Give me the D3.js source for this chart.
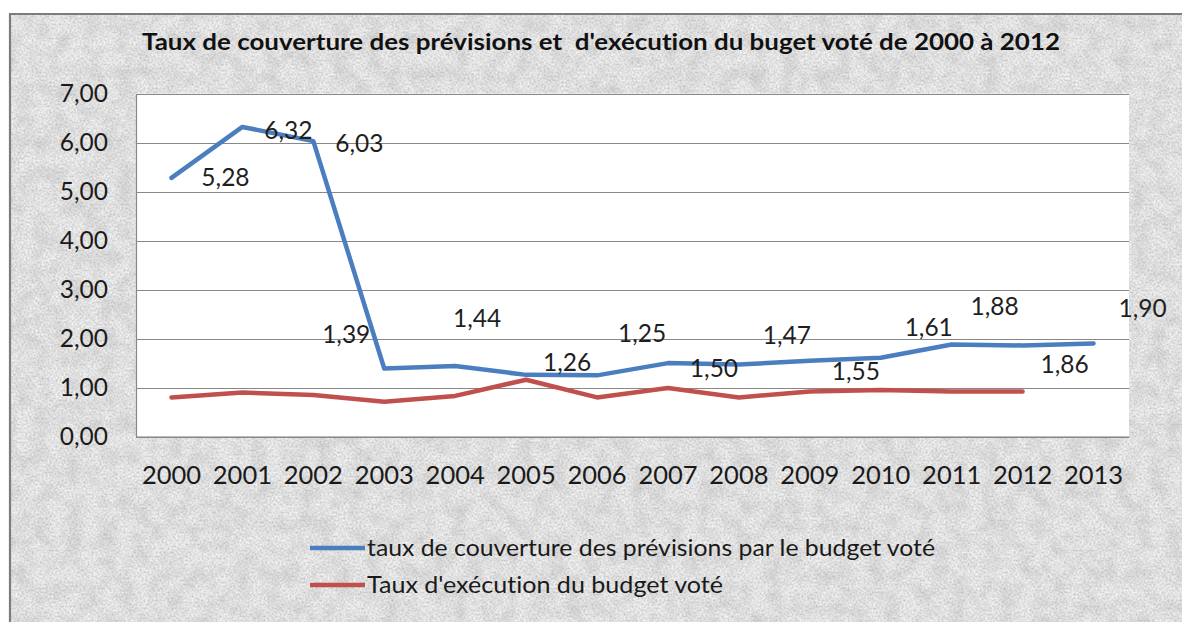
<!DOCTYPE html>
<html>
<head>
<meta charset="utf-8">
<script src="https://cdn.jsdelivr.net/npm/d3@7"></script>
<style>
  html, body { margin: 0; padding: 0; background: #ffffff; }
  svg { display: block; }
  text { white-space: pre; font-variant-ligatures: none; font-feature-settings: "liga" 0, "clig" 0; }
</style>
</head>
<body>
<svg id="chart" width="1182" height="622"></svg>
<script>
// ---- data ----
const years = ["2000", "2001", "2002", "2003", "2004", "2005", "2006",
               "2007", "2008", "2009", "2010", "2011", "2012", "2013"];
// taux de couverture des prévisions par le budget voté (2000-2013)
const couverture = [5.28, 6.32, 6.03, 1.39, 1.44, 1.26, 1.25,
                    1.50, 1.47, 1.55, 1.61, 1.88, 1.86, 1.90];
// taux d'exécution du budget voté (2000-2012)
const execution = [0.80, 0.90, 0.85, 0.71, 0.83, 1.16, 0.80,
                   0.99, 0.80, 0.92, 0.95, 0.92, 0.92];
const yTicks = [0, 1, 2, 3, 4, 5, 6, 7];
const seriesNames = ["taux de couverture des prévisions par le budget voté",
                     "Taux d'exécution du budget voté"];
const titleText = "Taux de couverture des prévisions et  d'exécution du buget voté de 2000 à 2012";

// ---- layout ----
const W = 1182, H = 622;
const plot = { left: 136, right: 1129, top: 93.6, bottom: 436.6 };
const colors = ["#4a7ebf", "#c0504d"];
// value-label placement relative to each point (dx, dy of the label centre)
const labelShift = [[54, 0], [46, 3], [46, 2], [-38, -34], [22, -48], [41, -12], [45, -42],
                    [46, 5], [48, -29], [46, 11], [48, -30], [43, -38], [42, 19], [49, -35]];
// horizontal extents of the title and legend texts
const titleSpan = 918;
const legendSpans = [568, 356];

const fr = d3.formatLocale({ decimal: ",", thousands: " ", grouping: [3], currency: ["", " €"] });
const fmt = fr.format(".2f");

const svg = d3.select("#chart");
const defs = svg.append("defs");

// granite-like paper texture for the chart background
const f = defs.append("filter").attr("id", "granite")
  .attr("x", 0).attr("y", 0).attr("width", "100%").attr("height", "100%");
f.append("feTurbulence").attr("type", "fractalNoise").attr("baseFrequency", 0.5)
  .attr("numOctaves", 2).attr("seed", 7).attr("result", "fine");
f.append("feColorMatrix").attr("in", "fine").attr("type", "matrix")
  .attr("values", "0 0 0 0 0  0 0 0 0 0  0 0 0 0 0  -1.1 0 0 0 0.78").attr("result", "fineA");
f.append("feTurbulence").attr("type", "fractalNoise").attr("baseFrequency", 0.06)
  .attr("numOctaves", 3).attr("seed", 3).attr("result", "coarse");
f.append("feColorMatrix").attr("in", "coarse").attr("type", "matrix")
  .attr("values", "0 0 0 0 0  0 0 0 0 0  0 0 0 0 0  -0.7 0 0 0 0.45").attr("result", "coarseA");
f.append("feFlood").attr("flood-color", "#f3f3f3").attr("result", "base");
f.append("feFlood").attr("flood-color", "#a2a2a2").attr("result", "ink");
f.append("feComposite").attr("in", "ink").attr("in2", "fineA").attr("operator", "in").attr("result", "speck");
f.append("feComposite").attr("in", "ink").attr("in2", "coarseA").attr("operator", "in").attr("result", "blot");
const fm = f.append("feMerge");
fm.append("feMergeNode").attr("in", "base");
fm.append("feMergeNode").attr("in", "blot");
fm.append("feMergeNode").attr("in", "speck");

// chart area with its frame
svg.append("rect").attr("x", 10).attr("y", 14).attr("width", W - 10).attr("height", H - 14)
  .attr("fill", "#ececec").attr("filter", "url(#granite)");
svg.append("path").attr("d", `M10,${H} L10,14 L${W},14`)
  .attr("fill", "none").attr("stroke", "#7c7c7c").attr("stroke-width", 2.2);

// title
svg.append("text").attr("x", 601 - titleSpan / 2).attr("y", 50)
  .attr("font-family", "Lato, 'Open Sans', sans-serif")
  .attr("font-weight", 700).attr("font-size", 22.5)
  .attr("textLength", titleSpan).attr("lengthAdjust", "spacingAndGlyphs")
  .attr("fill", "#111").text(titleText);

// scales
const x = d3.scaleBand().domain(years).range([plot.left, plot.right]).padding(0);
const y = d3.scaleLinear().domain([0, 7]).range([plot.bottom, plot.top]);
const cx = d => x(d) + x.bandwidth() / 2;

// plot area
svg.append("rect").attr("x", plot.left).attr("y", plot.top)
  .attr("width", plot.right - plot.left).attr("height", plot.bottom - plot.top)
  .attr("fill", "#ffffff");

// gridlines
svg.append("g").selectAll("line").data(yTicks).join("line")
  .attr("x1", plot.left).attr("x2", plot.right)
  .attr("y1", d => Math.round(y(d)) + 0.5).attr("y2", d => Math.round(y(d)) + 0.5)
  .attr("stroke", "#888").attr("stroke-width", 1.2);

// y axis
const yAxis = svg.append("g").attr("transform", `translate(${plot.left},0)`)
  .call(d3.axisLeft(y).tickValues(yTicks).tickFormat(fmt).tickSize(0).tickPadding(28));
yAxis.select(".domain").attr("stroke", "#888").attr("stroke-width", 1.2);
yAxis.selectAll("text").attr("font-family", "Lato, sans-serif").attr("font-size", 24.5).attr("fill", "#1a1a1a");

// x axis
const xAxis = svg.append("g").attr("transform", `translate(0,${plot.bottom})`)
  .call(d3.axisBottom(x).tickSize(0).tickPadding(29));
xAxis.select(".domain").attr("stroke", "#888").attr("stroke-width", 1.2);
xAxis.selectAll("text").attr("font-family", "Lato, sans-serif").attr("font-size", 25.5).attr("fill", "#1a1a1a");

// lines
const line = d3.line().x(d => cx(d.year)).y(d => y(d.v));
const s1 = years.map((yr, i) => ({ year: yr, v: couverture[i] }));
const s2 = execution.map((v, i) => ({ year: years[i], v }));

svg.append("path").datum(s2).attr("d", line)
  .attr("fill", "none").attr("stroke", colors[1]).attr("stroke-width", 4.5)
  .attr("stroke-linejoin", "round").attr("stroke-linecap", "round");
svg.append("path").datum(s1).attr("d", line)
  .attr("fill", "none").attr("stroke", colors[0]).attr("stroke-width", 4.5)
  .attr("stroke-linejoin", "round").attr("stroke-linecap", "round");

// value labels for the first series
svg.append("g").selectAll("text").data(s1).join("text")
  .attr("x", (d, i) => cx(d.year) + labelShift[i][0])
  .attr("y", (d, i) => y(d.v) + labelShift[i][1] + 8.6)
  .attr("text-anchor", "middle")
  .attr("font-family", "Lato, sans-serif").attr("font-size", 24.5).attr("fill", "#1f1f1f")
  .text(d => fmt(d.v));

// legend
const lg = svg.append("g");
seriesNames.forEach((name, i) => {
  const ly = 548 + i * 37;
  lg.append("line").attr("x1", 310).attr("x2", 365).attr("y1", ly).attr("y2", ly)
    .attr("stroke", colors[i]).attr("stroke-width", 4.5);
  lg.append("text").attr("x", 367).attr("y", ly + 8)
    .attr("font-family", "Lato, sans-serif").attr("font-size", 22.5).attr("fill", "#1a1a1a")
    .attr("textLength", legendSpans[i]).attr("lengthAdjust", "spacingAndGlyphs")
    .text(name);
});
</script>
</body>
</html>
